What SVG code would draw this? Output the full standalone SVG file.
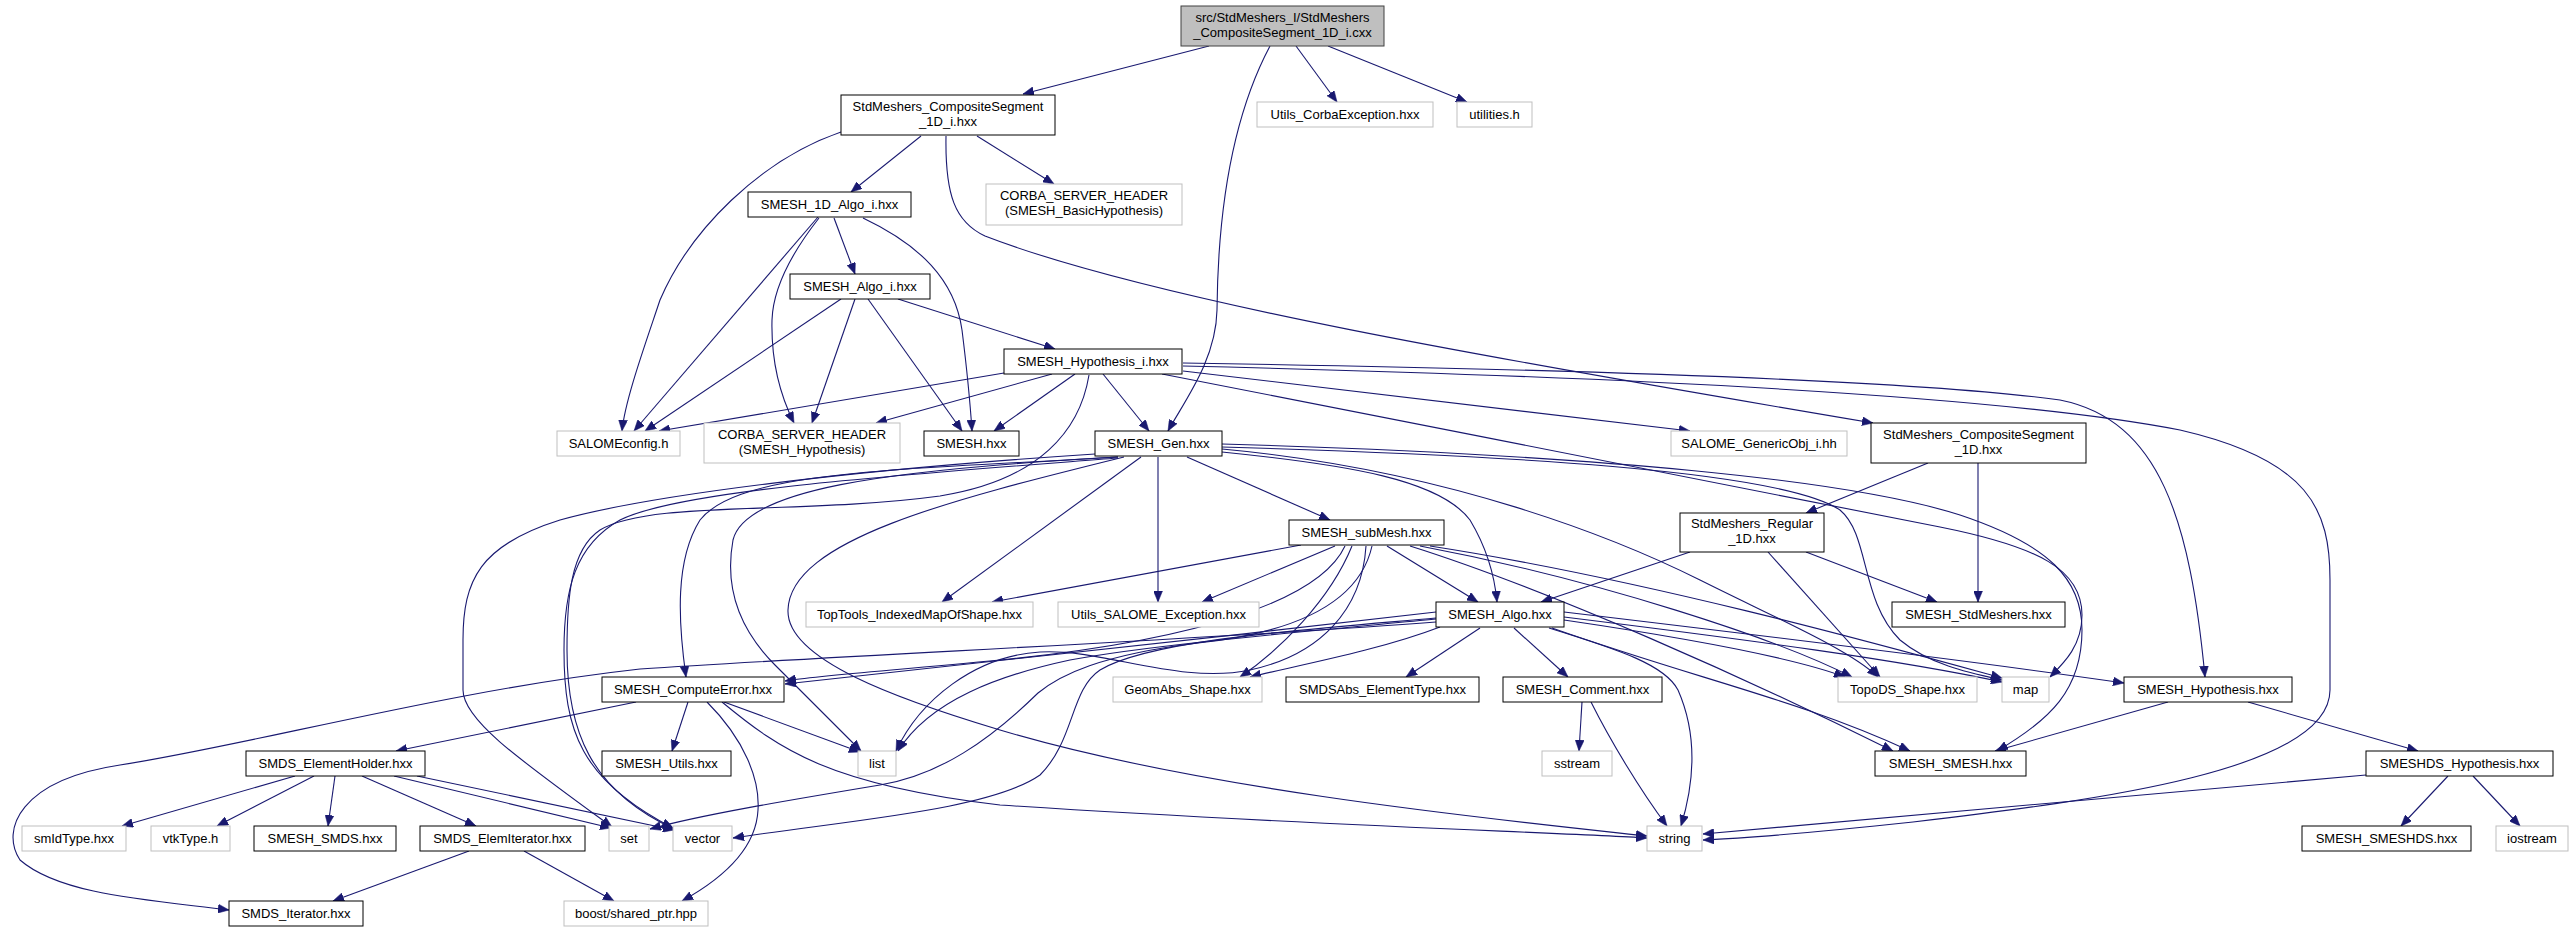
<svg xmlns="http://www.w3.org/2000/svg" width="2573" height="932" viewBox="0 0 2573 932">
<style>
.nd rect{fill:#fff;stroke:#000;stroke-width:1}
.gr rect{fill:#fff;stroke:#bfbfbf;stroke-width:1}
.mn rect{fill:#bfbfbf;stroke:#404040;stroke-width:1}
text{font-family:"Liberation Sans",Arial,Helvetica,sans-serif;font-size:13px;text-anchor:middle;fill:#000}
#edges path{fill:none;stroke:#191970;stroke-width:1.1;marker-end:url(#ah)}
</style>
<defs>
<marker id="ah" markerWidth="11" markerHeight="9" refX="11" refY="4.5" orient="auto" markerUnits="userSpaceOnUse">
<path d="M0,0 L11,4.5 L0,9 z" fill="#191970" stroke="#191970" stroke-width="0.5"/>
</marker>
</defs>
<rect width="2573" height="932" fill="#fff"/>
<g id="edges">
<path d="M1209,46 L1023,94"/>
<path d="M1296,46 L1337,102"/>
<path d="M1328,46 L1467,102"/>
<path d="M1270,46 C1236,110 1218,200 1217,310 C1216,360 1185,400 1168,431"/>
<path d="M921,136 L851,192"/>
<path d="M977,136 L1054,184"/>
<path d="M841,132 C760,160 690,230 660,300 C645,345 625,400 622,431"/>
<path d="M946,136 C945,195 955,222 985,236 C1150,300 1500,360 1873,423"/>
<path d="M834,218 L855,274"/>
<path d="M818,217 L634,431"/>
<path d="M819,218 C790,255 773,290 772,320 C771,360 780,395 794,423"/>
<path d="M863,218 C920,245 955,280 962,330 C967,370 970,400 972,431"/>
<path d="M841,299 L645,431"/>
<path d="M855,299 L812,423"/>
<path d="M868,299 L962,431"/>
<path d="M898,299 L1055,349"/>
<path d="M1004,373 L659,431"/>
<path d="M1052,374 L876,423"/>
<path d="M1075,374 L994,431"/>
<path d="M1103,374 L1149,431"/>
<path d="M1183,371 L1690,431"/>
<path d="M1183,363 C1500,368 1900,378 2060,400 C2160,420 2190,520 2205,677"/>
<path d="M1183,366 C1600,376 2000,395 2180,430 C2310,460 2330,510 2330,580 L2330,690 C2330,770 2100,800 1913,822 C1800,834 1750,838 1703,840"/>
<path d="M1162,374 C1400,420 1800,500 1940,527 C2040,547 2082,570 2082,615 C2082,645 2065,662 2050,677"/>
<path d="M1089,375 C1080,430 1040,480 940,496 C800,515 650,500 600,530 C570,550 567,600 567,650 C567,730 590,790 674,829"/>
<path d="M1118,457 C900,470 740,470 700,520 C675,560 678,620 686,677"/>
<path d="M1118,457 C880,470 745,490 733,540 C722,600 750,640 775,665 L861,751"/>
<path d="M1124,457 C950,500 790,540 788,610 C786,660 900,700 1000,730 C1200,790 1500,820 1647,836"/>
<path d="M1095,454 C850,470 650,495 560,520 C480,545 463,580 463,640 L463,690 C463,720 520,760 612,827"/>
<path d="M1118,458 C900,475 680,490 620,520 C575,545 564,590 564,650 C564,730 580,780 673,828"/>
<path d="M1141,457 L942,602"/>
<path d="M1158,457 L1158,602"/>
<path d="M1187,457 L1330,520"/>
<path d="M1222,452 C1350,465 1440,480 1470,520 C1488,550 1495,580 1497,602"/>
<path d="M1222,449 C1450,470 1620,540 1700,580 C1780,620 1850,650 1878,677"/>
<path d="M1222,447 C1500,455 1780,470 1840,510 C1870,535 1860,600 1900,640 C1930,665 1970,673 2002,680"/>
<path d="M1222,444 C1600,455 1850,480 1960,515 C2050,545 2082,580 2082,630 C2082,690 2050,720 1997,751"/>
<path d="M1301,545 L992,602"/>
<path d="M1335,546 L1202,602"/>
<path d="M1387,546 L1478,602"/>
<path d="M1345,546 C1320,600 1200,640 1000,660 C900,670 820,675 785,681"/>
<path d="M1366,546 C1362,610 1320,655 1250,670 C1180,685 1100,648 1040,652 C975,656 920,700 896,751"/>
<path d="M1372,546 C1360,600 1300,632 1198,643 C1100,655 1060,675 1038,693 C990,740 940,775 880,785 C790,800 700,815 650,829"/>
<path d="M1436,622 C1200,640 850,655 640,669 C450,690 250,745 120,765 C20,780 0,830 20,860 C60,895 150,900 229,910"/>
<path d="M1352,546 C1330,600 1280,650 1240,677"/>
<path d="M1420,546 C1600,580 1780,640 1852,677"/>
<path d="M1430,546 C1650,580 1900,650 2002,678"/>
<path d="M1410,546 C1550,590 1750,680 1893,751"/>
<path d="M1480,628 L1406,677"/>
<path d="M1514,628 L1568,677"/>
<path d="M1549,628 C1620,650 1665,665 1678,690 C1700,740 1692,790 1681,826"/>
<path d="M1564,620 C1700,640 1800,660 1845,677"/>
<path d="M1564,617 C1750,640 1900,660 2002,682"/>
<path d="M1552,628 C1700,680 1800,700 1910,751"/>
<path d="M1564,612 C1800,640 2000,665 2124,683"/>
<path d="M1436,612 C1200,640 900,670 785,684"/>
<path d="M1440,627 C1380,650 1300,665 1250,677"/>
<path d="M1436,619 C1300,632 1150,645 1070,660 C1000,675 930,700 898,751"/>
<path d="M1436,618 C1300,630 1150,640 1100,670 C1070,690 1075,740 1040,775 C990,810 850,820 733,838"/>
<path d="M1690,552 L1541,602"/>
<path d="M1768,552 L1880,677"/>
<path d="M1806,552 L1937,602"/>
<path d="M1928,463 L1806,513"/>
<path d="M1978,463 L1978,602"/>
<path d="M2168,702 L1995,751"/>
<path d="M2248,702 L2418,751"/>
<path d="M2448,776 L2401,826"/>
<path d="M2473,776 L2520,826"/>
<path d="M2366,775 L1703,834"/>
<path d="M1582,702 L1579,751"/>
<path d="M1591,702 C1610,740 1640,790 1667,826"/>
<path d="M636,702 L396,751"/>
<path d="M688,702 L672,751"/>
<path d="M724,702 L860,752"/>
<path d="M707,702 C745,740 760,780 758,810 C756,850 720,880 682,901"/>
<path d="M722,702 C780,750 830,785 1000,805 C1300,825 1550,832 1647,838"/>
<path d="M295,776 L122,826"/>
<path d="M314,776 L217,826"/>
<path d="M335,776 L328,826"/>
<path d="M362,776 L476,826"/>
<path d="M394,776 L611,828"/>
<path d="M417,776 L674,830"/>
<path d="M469,851 L333,901"/>
<path d="M524,851 L614,901"/>
</g>
<g id="n0" class="mn"><rect x="1181" y="6" width="203" height="40"/><text x="1282.5" y="22">src/StdMeshers_I/StdMeshers</text><text x="1282.5" y="37">_CompositeSegment_1D_i.cxx</text></g>
<g id="n1" class="nd"><rect x="841" y="95" width="214" height="40"/><text x="948" y="111">StdMeshers_CompositeSegment</text><text x="948" y="126">_1D_i.hxx</text></g>
<g id="n2" class="gr"><rect x="1257" y="102" width="176" height="25"/><text x="1345" y="119">Utils_CorbaException.hxx</text></g>
<g id="n3" class="gr"><rect x="1457" y="102" width="75" height="25"/><text x="1494.5" y="119">utilities.h</text></g>
<g id="n4" class="nd"><rect x="748" y="192" width="163" height="25"/><text x="829.5" y="209">SMESH_1D_Algo_i.hxx</text></g>
<g id="n5" class="gr"><rect x="986" y="184" width="196" height="41"/><text x="1084" y="200">CORBA_SERVER_HEADER</text><text x="1084" y="215">(SMESH_BasicHypothesis)</text></g>
<g id="n6" class="nd"><rect x="790" y="274" width="140" height="25"/><text x="860" y="291">SMESH_Algo_i.hxx</text></g>
<g id="n7" class="nd"><rect x="1004" y="349" width="178" height="25"/><text x="1093" y="366">SMESH_Hypothesis_i.hxx</text></g>
<g id="n8" class="gr"><rect x="557" y="431" width="123" height="25"/><text x="618.5" y="448">SALOMEconfig.h</text></g>
<g id="n9" class="gr"><rect x="704" y="423" width="196" height="40"/><text x="802" y="439">CORBA_SERVER_HEADER</text><text x="802" y="454">(SMESH_Hypothesis)</text></g>
<g id="n10" class="nd"><rect x="924" y="431" width="95" height="25"/><text x="971.5" y="448">SMESH.hxx</text></g>
<g id="n11" class="nd"><rect x="1095" y="431" width="127" height="25"/><text x="1158.5" y="448">SMESH_Gen.hxx</text></g>
<g id="n12" class="gr"><rect x="1671" y="431" width="176" height="25"/><text x="1759" y="448">SALOME_GenericObj_i.hh</text></g>
<g id="n13" class="nd"><rect x="1871" y="423" width="215" height="40"/><text x="1978.5" y="439">StdMeshers_CompositeSegment</text><text x="1978.5" y="454">_1D.hxx</text></g>
<g id="n14" class="nd"><rect x="1289" y="520" width="155" height="25"/><text x="1366.5" y="537">SMESH_subMesh.hxx</text></g>
<g id="n15" class="nd"><rect x="1680" y="513" width="144" height="39"/><text x="1752" y="528">StdMeshers_Regular</text><text x="1752" y="543">_1D.hxx</text></g>
<g id="n16" class="gr"><rect x="806" y="602" width="227" height="25"/><text x="919.5" y="619">TopTools_IndexedMapOfShape.hxx</text></g>
<g id="n17" class="gr"><rect x="1058" y="602" width="201" height="25"/><text x="1158.5" y="619">Utils_SALOME_Exception.hxx</text></g>
<g id="n18" class="nd"><rect x="1436" y="602" width="128" height="25"/><text x="1500" y="619">SMESH_Algo.hxx</text></g>
<g id="n19" class="nd"><rect x="1892" y="602" width="173" height="25"/><text x="1978.5" y="619">SMESH_StdMeshers.hxx</text></g>
<g id="n20" class="nd"><rect x="602" y="677" width="182" height="25"/><text x="693" y="694">SMESH_ComputeError.hxx</text></g>
<g id="n21" class="gr"><rect x="1113" y="677" width="149" height="25"/><text x="1187.5" y="694">GeomAbs_Shape.hxx</text></g>
<g id="n22" class="nd"><rect x="1286" y="677" width="193" height="25"/><text x="1382.5" y="694">SMDSAbs_ElementType.hxx</text></g>
<g id="n23" class="nd"><rect x="1503" y="677" width="159" height="25"/><text x="1582.5" y="694">SMESH_Comment.hxx</text></g>
<g id="n24" class="gr"><rect x="1838" y="677" width="139" height="25"/><text x="1907.5" y="694">TopoDS_Shape.hxx</text></g>
<g id="n25" class="gr"><rect x="2002" y="677" width="47" height="25"/><text x="2025.5" y="694">map</text></g>
<g id="n26" class="nd"><rect x="2124" y="677" width="168" height="25"/><text x="2208" y="694">SMESH_Hypothesis.hxx</text></g>
<g id="n27" class="nd"><rect x="246" y="751" width="179" height="25"/><text x="335.5" y="768">SMDS_ElementHolder.hxx</text></g>
<g id="n28" class="nd"><rect x="602" y="751" width="129" height="25"/><text x="666.5" y="768">SMESH_Utils.hxx</text></g>
<g id="n29" class="gr"><rect x="858" y="751" width="38" height="25"/><text x="877" y="768">list</text></g>
<g id="n30" class="gr"><rect x="1542" y="751" width="70" height="25"/><text x="1577" y="768">sstream</text></g>
<g id="n31" class="nd"><rect x="1875" y="751" width="151" height="25"/><text x="1950.5" y="768">SMESH_SMESH.hxx</text></g>
<g id="n32" class="nd"><rect x="2366" y="751" width="187" height="25"/><text x="2459.5" y="768">SMESHDS_Hypothesis.hxx</text></g>
<g id="n33" class="gr"><rect x="22" y="826" width="104" height="25"/><text x="74" y="843">smIdType.hxx</text></g>
<g id="n34" class="gr"><rect x="151" y="826" width="79" height="25"/><text x="190.5" y="843">vtkType.h</text></g>
<g id="n35" class="nd"><rect x="254" y="826" width="142" height="25"/><text x="325" y="843">SMESH_SMDS.hxx</text></g>
<g id="n36" class="nd"><rect x="420" y="826" width="165" height="25"/><text x="502.5" y="843">SMDS_ElemIterator.hxx</text></g>
<g id="n37" class="gr"><rect x="609" y="826" width="40" height="25"/><text x="629" y="843">set</text></g>
<g id="n38" class="gr"><rect x="673" y="826" width="59" height="25"/><text x="702.5" y="843">vector</text></g>
<g id="n39" class="gr"><rect x="1647" y="826" width="55" height="25"/><text x="1674.5" y="843">string</text></g>
<g id="n40" class="nd"><rect x="2302" y="826" width="169" height="25"/><text x="2386.5" y="843">SMESH_SMESHDS.hxx</text></g>
<g id="n41" class="gr"><rect x="2496" y="826" width="72" height="25"/><text x="2532" y="843">iostream</text></g>
<g id="n42" class="nd"><rect x="229" y="901" width="134" height="25"/><text x="296" y="918">SMDS_Iterator.hxx</text></g>
<g id="n43" class="gr"><rect x="564" y="901" width="144" height="25"/><text x="636" y="918">boost/shared_ptr.hpp</text></g>
</svg>
